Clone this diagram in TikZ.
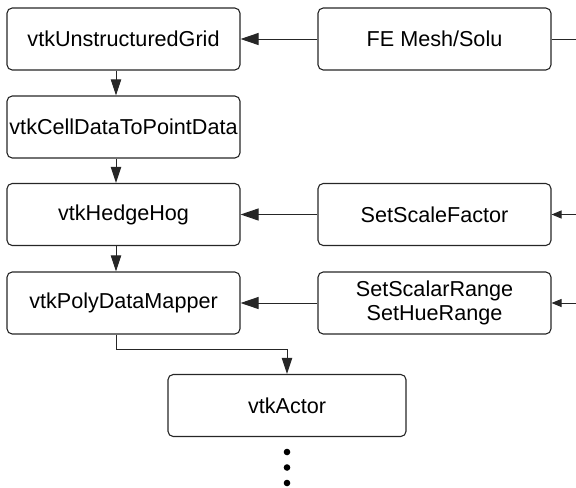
\documentclass[tikz,border=0pt]{standalone}
\usepackage{fontspec}
\setmainfont{Liberation Sans}
\usetikzlibrary{arrows.meta}
\begin{document}
\begin{tikzpicture}[x=0.5pt,y=-0.5pt,
  box/.style={draw=black!85, line width=0.55pt, rounded corners=2.6pt, inner sep=0pt,
    minimum width=116.5pt, minimum height=31pt, align=center,
    font=\fontsize{10.8}{12}\selectfont},
  conn/.style={line width=0.5pt, draw=black!85},
  bigarr/.style={conn, -{Triangle[length=9pt,width=6pt]}},
  downarr/.style={conn, -{Triangle[length=8pt,width=5.2pt]}},
  smallarr/.style={conn, -{Triangle[length=5pt,width=4pt]}},
  dot/.style={circle, fill=black, inner sep=0pt, minimum size=3.3pt}]
\useasboundingbox (0,0) rectangle (576,487);
\node[box] (ug) at (123.5,39) {vtkUnstructuredGrid};
\node[box] (fe) at (434.5,39) {FE Mesh/Solu};
\node[box] (cd) at (123.5,127) {vtkCellDataToPointData};
\node[box] (hh) at (123.5,214.5) {vtkHedgeHog};
\node[box] (sf) at (434.5,214.5) {SetScaleFactor};
\node[box] (pm) at (123.5,303) {vtkPolyDataMapper};
\node[box] (sr) at (434.5,303) {SetScalarRange\\[-0.4pt]SetHueRange};
\node[box, minimum width=119pt] (ac) at (287,405.5) {vtkActor};
\node[dot] (d1) at (287,452) {};
\node[dot] (d2) at (287,467.5) {};
\node[dot] (d3) at (287,483) {};
\coordinate (cx) at (116,0);
\coordinate (elb) at (0,349);
\coordinate (e1) at (577,39);
\coordinate (e2) at (577,214.5);
\coordinate (e3) at (577,303);
\draw[bigarr] (fe) -- (ug);
\draw[bigarr] (sf) -- (hh);
\draw[bigarr] (sr) -- (pm);
\draw[conn] (fe) -- (e1);
\draw[smallarr] (e2) -- (sf);
\draw[smallarr] (e3) -- (sr);
\draw[downarr] (ug.south -| cx) -- (cd.north -| cx);
\draw[downarr] (cd.south -| cx) -- (hh.north -| cx);
\draw[downarr] (hh.south -| cx) -- (pm.north -| cx);
\draw[downarr] (pm.south -| cx) -- (cx |- elb) -| (ac.north);
\end{tikzpicture}
\end{document}
